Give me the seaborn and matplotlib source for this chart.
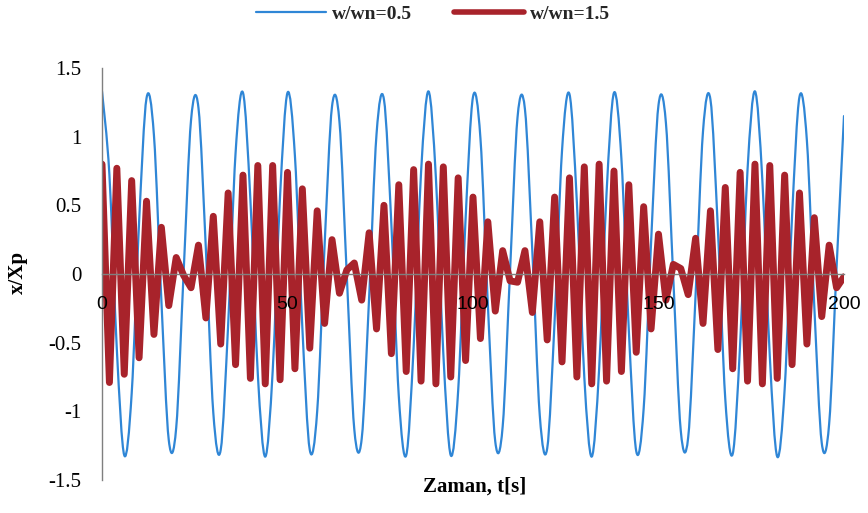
import matplotlib
matplotlib.use("Agg")
import matplotlib.pyplot as plt
from matplotlib.path import Path
from matplotlib.patches import PathPatch
from matplotlib.lines import Line2D
import numpy as np
import pandas as pd
import seaborn as sns

# time axis, one sample every 2 s
t = list(range(0, 202, 2))

# w/wn = 0.5
x_05 = [1.33, 0.72, -0.55, -1.32, -0.87, 0.38, 1.28, 1.01, -0.19, -1.21,
        -1.12, 0.01, 1.12, 1.21, 0.18, -1.01, -1.28, -0.37, 0.88, 1.32,
        0.54, -0.73, -1.33, -0.71, 0.57, 1.32, 0.86, -0.39, -1.28, -1.00,
        0.21, 1.22, 1.11, -0.02, -1.13, -1.20, -0.17, 1.02, 1.27, 0.36,
        -0.89, -1.32, -0.53, 0.74, 1.33, 0.70, -0.58, -1.32, -0.85, 0.40,
        1.29, 0.99, -0.22, -1.22, -1.11, 0.03, 1.14, 1.20, 0.16, -1.03,
        -1.27, -0.34, 0.90, 1.31, 0.52, -0.75, -1.33, -0.69, 0.59, 1.32,
        0.84, -0.41, -1.29, -0.98, 0.23, 1.23, 1.10, -0.04, -1.14, -1.19,
        -0.15, 1.04, 1.27, 0.33, -0.91, -1.31, -0.51, 0.76, 1.33, 0.68,
        -0.60, -1.33, -0.84, 0.42, 1.29, 0.97, -0.24, -1.23, -1.09, 0.05,
        1.15]

# w/wn = 1.5
x_15 = [0.80, -0.79, 0.77, -0.73, 0.68, -0.61, 0.53, -0.44, 0.34, -0.23,
        0.12, -0.01, -0.10, 0.21, -0.32, 0.42, -0.51, 0.59, -0.66, 0.72,
        -0.76, 0.79, -0.80, 0.79, -0.77, 0.74, -0.69, 0.62, -0.54, 0.46,
        -0.36, 0.25, -0.14, 0.03, 0.08, -0.19, 0.30, -0.40, 0.50, -0.58,
        0.65, -0.71, 0.76, -0.78, 0.80, -0.80, 0.78, -0.75, 0.70, -0.63,
        0.56, -0.47, 0.38, -0.27, 0.17, -0.05, -0.06, 0.17, -0.28, 0.38,
        -0.48, 0.56, -0.64, 0.70, -0.75, 0.78, -0.80, 0.80, -0.78, 0.75,
        -0.71, 0.65, -0.57, 0.49, -0.40, 0.29, -0.19, 0.07, 0.04, -0.15,
        0.26, -0.36, 0.46, -0.55, 0.63, -0.69, 0.74, -0.78, 0.80, -0.80,
        0.79, -0.76, 0.72, -0.66, 0.59, -0.51, 0.41, -0.31, 0.21, -0.10,
        -0.02]

labels = ["w/wn=0.5", "w/wn=1.5"]
yticks = [-1.5, -1, -0.5, 0, 0.5, 1, 1.5]
ytick_labels = ["-1.5", "-1", "-0.5", "0", "0.5", "1", "1.5"]
xticks = [0, 50, 100, 150, 200]

BLUE = "#2f86d6"
RED = "#a8232b"
GRAY = "#7f7f7f"

sns.set_theme(style="white")
plt.rcParams["font.family"] = ["Liberation Serif", "DejaVu Serif"]

fig = plt.figure(figsize=(8.68, 5.13), dpi=100)
ax = fig.add_axes([102 / 868, 1 - 480 / 513, (844 - 102) / 868, (480 - 68) / 513])


def smooth_path(xs, ys):
    # excel style smoothed line (bezier through every point)
    p = np.column_stack([xs, ys]).astype(float)
    n = len(p)
    verts = [p[0]]
    codes = [Path.MOVETO]
    for i in range(n - 1):
        p0 = p[i - 1] if i > 0 else p[i]
        p1, p2 = p[i], p[i + 1]
        p3 = p[i + 2] if i + 2 < n else p[i + 1]
        verts += [p1 + (p2 - p0) / 6, p2 - (p3 - p1) / 6, p2]
        codes += [Path.CURVE4] * 3
    return Path(verts, codes)


ax.add_patch(PathPatch(smooth_path(t, x_05), fill=False, edgecolor=BLUE,
                       lw=1.6, zorder=1.5, capstyle="round", joinstyle="round"))

df = pd.DataFrame({"t": t, "x": x_15})
sns.lineplot(data=df, x="t", y="x", color=RED, lw=5, ax=ax, zorder=2,
             solid_joinstyle="round", solid_capstyle="round")

ax.set_xlim(0, 200)
ax.set_ylim(-1.5, 1.5)
ax.set_axisbelow(False)  # tick labels sit on top of the lines

for side in ["top", "right"]:
    ax.spines[side].set_visible(False)
ax.spines["bottom"].set_position(("data", 0))
ax.spines["bottom"].set_color(GRAY)
ax.spines["bottom"].set_linewidth(1.0)
ax.spines["bottom"].set_zorder(3)
ax.spines["left"].set_color(GRAY)
ax.spines["left"].set_linewidth(1.0)

ax.set_yticks(yticks)
ax.set_yticklabels(ytick_labels)
ax.set_xticks(xticks)
ax.set_xticklabels([str(v) for v in xticks])
ax.tick_params(axis="y", length=0, pad=15, labelsize=15, labelcolor="black")
ax.tick_params(axis="x", length=0, pad=16, labelsize=14, labelcolor="black",
               labelfontfamily="Liberation Sans")
ax.xaxis.set_zorder(4)

ax.set_xlabel("")
ax.set_ylabel("x/Xp", fontsize=15, fontweight="bold", color="black")
ax.yaxis.set_label_coords(-0.1, 0.505)
fig.text(475 / 868, 1 - 487 / 513, "Zaman, t[s]", fontsize=15,
         fontweight="bold", ha="center", va="center", color="black")

handles = [Line2D([], [], color=BLUE, lw=1.6),
           Line2D([], [], color=RED, lw=4)]
fig.legend(handles, labels, loc="center", ncol=2,
           bbox_to_anchor=(433 / 868, 1 - 14 / 513), frameon=False,
           prop={"size": 14, "weight": "bold"}, handlelength=3.6,
           handletextpad=0.3, columnspacing=2.2)

fig.savefig("out.png", dpi=100)
